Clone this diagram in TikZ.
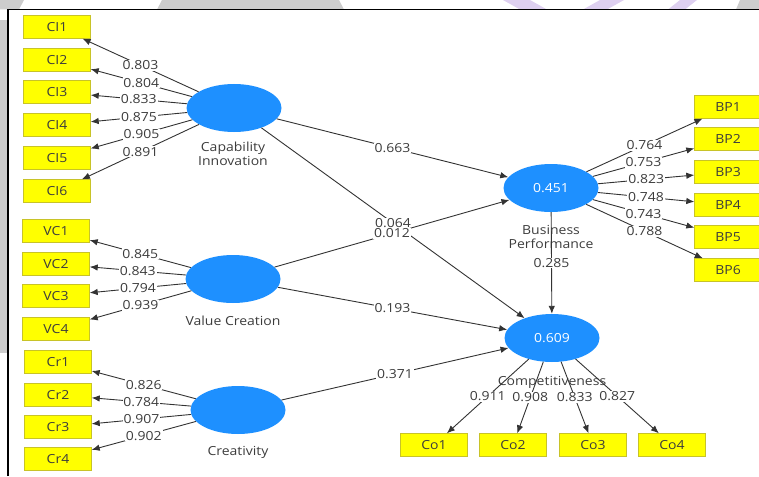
\documentclass[tikz,border=0pt]{standalone}
\usepackage{fontspec}
\setmainfont{Open Sans}[FakeStretch=1.12]
\usetikzlibrary{shapes.geometric, arrows.meta}

\definecolor{plsblue}{RGB}{30,144,255}
\definecolor{boxyellow}{RGB}{255,255,0}
\definecolor{boxedge}{RGB}{200,195,40}
\definecolor{txtgray}{RGB}{60,60,60}
\definecolor{bggray}{RGB}{205,205,205}
\definecolor{bglilac}{RGB}{222,208,240}

\begin{document}
\begin{tikzpicture}[x=1pt, y=-1pt, font=\fontsize{12.5}{14}\selectfont,
    ind/.style={draw=boxedge, fill=boxyellow, text=txtgray, minimum width=67pt, minimum height=23pt, inner sep=0pt},
    lv/.style={ellipse, fill=plsblue, text=white, minimum width=95pt, minimum height=48pt, inner sep=0pt},
    lvname/.style={text=txtgray, align=center, inner sep=0pt},
    coef/.style={fill=white, text=txtgray, inner sep=0.8pt},
    arrow/.style={-{Latex[length=8pt, width=6.5pt]}, line width=0.9pt, draw=black!80}]

    \useasboundingbox (0,0) rectangle (759,476);

    % Background
    \fill[bggray] (0,0) -- (24,0) -- (19,9.5) -- (0,9.5) -- cycle;
    \fill[bggray] (162,0) -- (339,0) -- (344,9.5) -- (157,9.5) -- cycle;
    \fill[bglilac] (503,0) -- (530,0) -- (547,9.5) -- (520,9.5) -- cycle;
    \fill[bglilac] (600,0) -- (624,0) -- (607,9.5) -- (583,9.5) -- cycle;
    \fill[bglilac] (680,0) -- (697,0) -- (685,9.5) -- (668,9.5) -- cycle;
    \fill[bggray] (740,0) -- (759,0) -- (759,9.5) -- (736,9.5) -- cycle;
    \fill[bggray] (0,20) rectangle (8,353);
    \draw[line width=1.2pt] (8,476) -- (8,9.5) -- (759,9.5);

    % Constructs
    \node[lv] (ci) at (234,108) {};
    \node[lv] (vc) at (233,279) {};
    \node[lv] (cr) at (238,410) {};
    \node[lv] (bp) at (551,188) {0.451};
    \node[lv] (comp) at (552,338) {0.609};

    \node[lvname] (ci-name) at (233,153.5) {Capability\\Innovation};
    \node[lvname] (vc-name) at (233,321) {Value Creation};
    \node[lvname] (cr-name) at (238,452) {Creativity};
    \node[lvname] (bp-name) at (551,236.5) {Business\\Performance};
    \node[lvname] (comp-name) at (552,382) {Competitiveness};

    % Indicators
    \node[ind] (ci1) at (57,27) {CI1};
    \node[ind] (ci2) at (57,60) {CI2};
    \node[ind] (ci3) at (57,92) {CI3};
    \node[ind] (ci4) at (57,125) {CI4};
    \node[ind] (ci5) at (57,158) {CI5};
    \node[ind] (ci6) at (57,191) {CI6};

    \node[ind] (vc1) at (56,231) {VC1};
    \node[ind] (vc2) at (56,264) {VC2};
    \node[ind] (vc3) at (56,296) {VC3};
    \node[ind] (vc4) at (56,329) {VC4};

    \node[ind] (cr1) at (58,362) {Cr1};
    \node[ind] (cr2) at (58,395) {Cr2};
    \node[ind] (cr3) at (58,427) {Cr3};
    \node[ind] (cr4) at (58,459) {Cr4};

    \node[ind] (bp1) at (728,107) {BP1};
    \node[ind] (bp2) at (728,139) {BP2};
    \node[ind] (bp3) at (728,172) {BP3};
    \node[ind] (bp4) at (728,205) {BP4};
    \node[ind] (bp5) at (728,237) {BP5};
    \node[ind] (bp6) at (728,270) {BP6};

    \node[ind] (co1) at (434,445) {Co1};
    \node[ind] (co2) at (513,445) {Co2};
    \node[ind] (co3) at (593,445) {Co3};
    \node[ind] (co4) at (672,445) {Co4};

    % Outer loadings
    \draw[arrow] (ci) -- node[coef] {0.803} (ci1);
    \draw[arrow] (ci) -- node[coef] {0.804} (ci2);
    \draw[arrow] (ci) -- node[coef] {0.833} (ci3);
    \draw[arrow] (ci) -- node[coef] {0.875} (ci4);
    \draw[arrow] (ci) -- node[coef] {0.905} (ci5);
    \draw[arrow] (ci) -- node[coef] {0.891} (ci6);

    \draw[arrow] (vc) -- node[coef] {0.845} (vc1);
    \draw[arrow] (vc) -- node[coef] {0.843} (vc2);
    \draw[arrow] (vc) -- node[coef] {0.794} (vc3);
    \draw[arrow] (vc) -- node[coef] {0.939} (vc4);

    \draw[arrow] (cr) -- node[coef] {0.826} (cr1);
    \draw[arrow] (cr) -- node[coef] {0.784} (cr2);
    \draw[arrow] (cr) -- node[coef] {0.907} (cr3);
    \draw[arrow] (cr) -- node[coef] {0.902} (cr4);

    \draw[arrow] (bp) -- node[coef] {0.764} (bp1);
    \draw[arrow] (bp) -- node[coef] {0.753} (bp2);
    \draw[arrow] (bp) -- node[coef] {0.823} (bp3);
    \draw[arrow] (bp) -- node[coef] {0.748} (bp4);
    \draw[arrow] (bp) -- node[coef] {0.743} (bp5);
    \draw[arrow] (bp) -- node[coef] {0.788} (bp6);

    \draw[arrow] (comp) -- node[coef] {0.911} (co1);
    \draw[arrow] (comp) -- node[coef] {0.908} (co2);
    \draw[arrow] (comp) -- node[coef] {0.833} (co3);
    \draw[arrow] (comp) -- node[coef] {0.827} (co4);

    % Path coefficients
    \draw[arrow] (ci) -- node[coef] {0.663} (bp);
    \draw[arrow] (ci) -- node[coef] {0.064} (comp);
    \draw[arrow] (vc) -- node[coef] {0.012} (bp);
    \draw[arrow] (vc) -- node[coef] {0.193} (comp);
    \draw[arrow] (cr) -- node[coef] {0.371} (comp);
    \draw[arrow] (bp) -- node[coef] {0.285} (comp);
\end{tikzpicture}
\end{document}
